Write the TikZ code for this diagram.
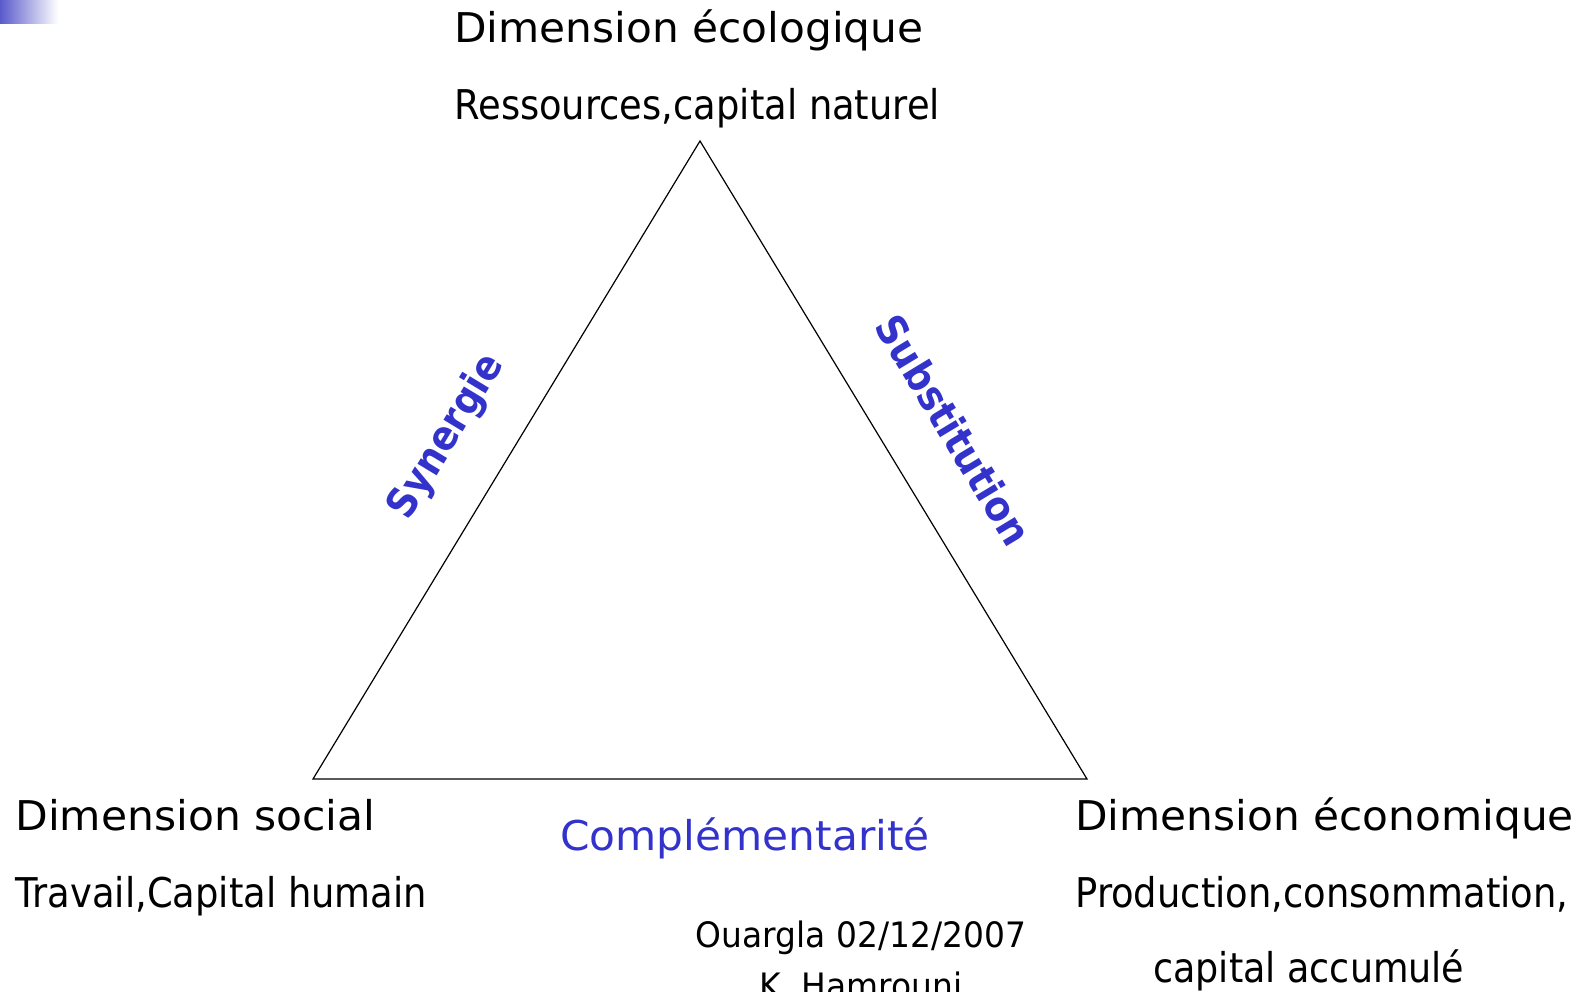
\documentclass[tikz,border=0pt]{standalone}
\usepackage{fontspec}
\setmainfont{DejaVu Sans}
\definecolor{tblue}{HTML}{3333CC}
\definecolor{gblue}{HTML}{5A5ACC}
\begin{document}
\begin{tikzpicture}[x=0.5pt,y=-0.5pt,
  lbl/.style={anchor=base west,inner sep=0pt,font=\fontsize{20.5}{24}\selectfont},
  side/.style={inner sep=0pt,text=tblue,font=\fontsize{20.5}{24}\selectfont\bfseries},
  foot/.style={anchor=base,inner sep=0pt,font=\fontsize{17.5}{21}\selectfont}]
\useasboundingbox (0,0) rectangle (1583,991);
\fill[left color=gblue,right color=white] (0,0) rectangle (58,23);
\coordinate (T) at (700,141);
\coordinate (L) at (313,779);
\coordinate (R) at (1087,779);
\draw[line width=0.6pt] (T) -- (L) -- (R) -- cycle;
\node[lbl,xscale=1.031] (eco1) at (454,42) {Dimension écologique};
\node[lbl,xscale=0.899] (eco2) at (454,119) {Ressources,capital naturel};
\node[lbl,xscale=1.035] (soc1) at (15,830) {Dimension social};
\node[lbl,xscale=0.900] (soc2) at (15,907) {Travail,Capital humain};
\node[lbl,xscale=1.031] (ecn1) at (1075,830) {Dimension économique};
\node[lbl,xscale=0.900] (ecn2) at (1075,907) {Production,consommation,};
\node[lbl,xscale=0.890] (ecn3) at (1153,982) {capital accumulé};
\node[lbl,text=tblue,xscale=1.031] (comp) at (560,850) {Complémentarité};
\node[side,rotate=58.8,xscale=0.9] (syn) at (447,437) {Synergie};
\node[side,rotate=-58.8,xscale=0.91] (sub) at (954,430) {Substitution};
\node[foot,xscale=0.94] (date) at (861,947) {Ouargla 02/12/2007};
\node[foot,xscale=0.94] (auth) at (861,998) {K. Hamrouni};
\end{tikzpicture}
\end{document}
